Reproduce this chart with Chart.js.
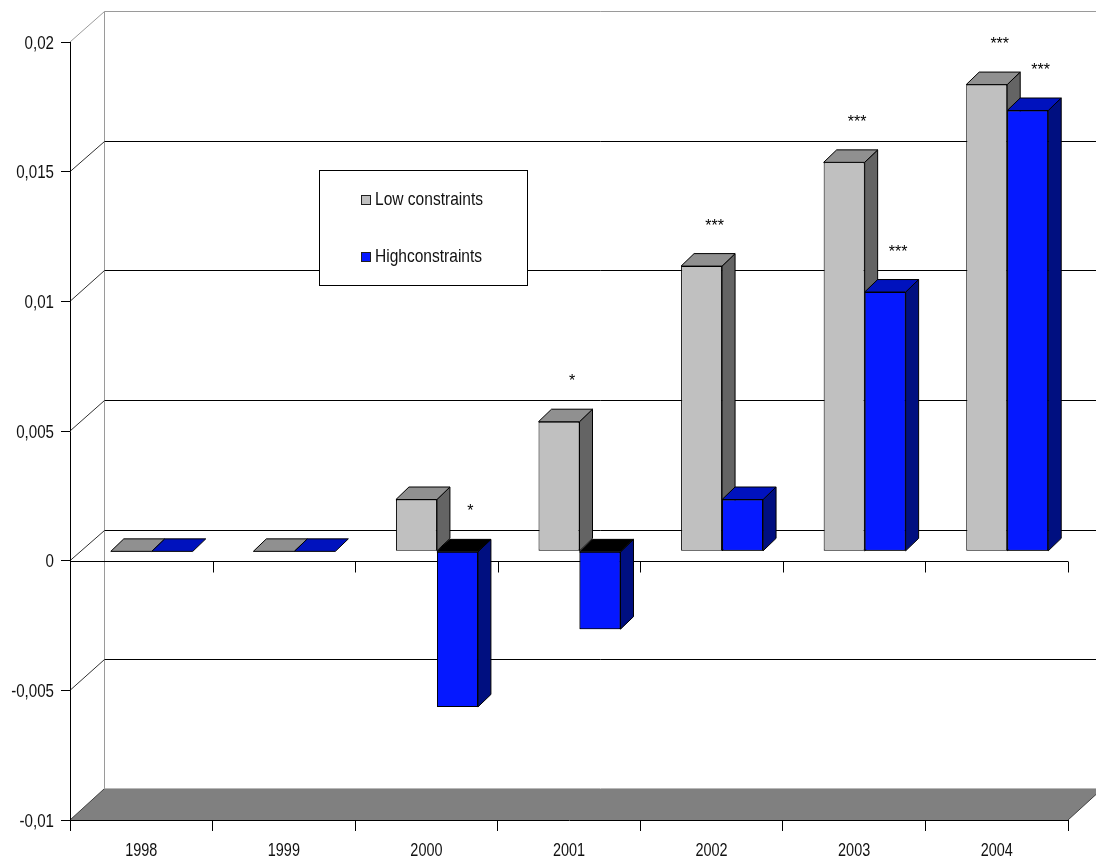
<!DOCTYPE html>
<html>
<head>
<meta charset="utf-8">
<script src="https://cdn.jsdelivr.net/npm/chart.js@4/dist/chart.umd.min.js"></script>
<style>
  html, body { margin: 0; padding: 0; background: #ffffff; }
  #c { display: block; }
</style>
</head>
<body>
<canvas id="c" width="1096" height="864"></canvas>
<script>
// ---- data ----
const categories = ['1998', '1999', '2000', '2001', '2002', '2003', '2004'];
const lowConstraints = [0, 0, 0.002, 0.005, 0.011, 0.015, 0.018];
const highConstraints = [0, 0, -0.006, -0.003, 0.002, 0.010, 0.017];
const lowStars = ['', '', '', '*', '***', '***', '***'];
const highStars = ['', '', '*', '', '', '***', '***'];
const seriesNames = ['Low constraints', 'Highconstraints'];
const yMin = -0.01, yMax = 0.02, yStep = 0.005;

// ---- styling ----
const FONT = "'Liberation Sans', Arial, sans-serif";
const WALL_DX = 34, WALL_DY = -31;     // depth of the whole 3D box
const BAR_OX = 10.5, BAR_OY = -9.3;    // bar plane offset from front plane
const BAR_DX = 13, BAR_DY = -12.5;     // depth of each bar
const faces = [
  { front: '#C0C0C0', top: '#909090', side: '#646464', negTop: '#000000' },
  { front: '#0518FF', top: '#0012BE', side: '#000F80', negTop: '#000000' }
];

function fmt(v) { return String(+v.toFixed(4)).replace('.', ','); }

function drawText(ctx, text, x, y, size, sx, align, baseline, color) {
  ctx.save();
  ctx.translate(x, y);
  ctx.scale(sx, 1);
  ctx.font = size + 'px ' + FONT;
  ctx.textAlign = align;
  ctx.textBaseline = baseline;
  ctx.fillStyle = color || '#111111';
  ctx.fillText(text, 0, 0);
  ctx.restore();
}

function drawFaces(ctx, bar, f) {
  const p = bar.getProps(['x', 'y', 'base', 'width'], true);
  const x1 = p.x - p.width / 2, x2 = p.x + p.width / 2;
  const top = Math.min(p.y, p.base), bottom = Math.max(p.y, p.base);
  const neg = p.y > p.base + 0.5;
  ctx.lineWidth = 1;
  ctx.strokeStyle = '#000000';
  if (bottom - top > 0.5) {
    ctx.beginPath();
    ctx.moveTo(x2, top);
    ctx.lineTo(x2 + BAR_DX, top + BAR_DY);
    ctx.lineTo(x2 + BAR_DX, bottom + BAR_DY);
    ctx.lineTo(x2, bottom);
    ctx.closePath();
    ctx.fillStyle = f.side;
    ctx.fill();
    ctx.stroke();
  }
  ctx.beginPath();
  ctx.moveTo(x1, top);
  ctx.lineTo(x1 + BAR_DX, top + BAR_DY);
  ctx.lineTo(x2 + BAR_DX, top + BAR_DY);
  ctx.lineTo(x2, top);
  ctx.closePath();
  ctx.fillStyle = neg ? f.negTop : f.top;
  ctx.fill();
  ctx.stroke();
}

const wallPlugin = {
  id: 'wall3d',
  beforeDraw(chart) {
    const { ctx, chartArea: a, scales: { y } } = chart;
    ctx.save();
    // floor
    const yf = y.getPixelForValue(yMin);
    ctx.beginPath();
    ctx.moveTo(a.left, yf);
    ctx.lineTo(a.right, yf);
    ctx.lineTo(a.right + WALL_DX, yf + WALL_DY);
    ctx.lineTo(a.left + WALL_DX, yf + WALL_DY);
    ctx.closePath();
    ctx.fillStyle = '#808080';
    ctx.fill();
    ctx.lineWidth = 1;
    ctx.strokeStyle = '#404040';
    ctx.beginPath();
    ctx.moveTo(a.left, yf); ctx.lineTo(a.left + WALL_DX, yf + WALL_DY);
    ctx.moveTo(a.right, yf); ctx.lineTo(a.right + WALL_DX, yf + WALL_DY);
    ctx.stroke();
    ctx.strokeStyle = '#b8b8b8';
    ctx.beginPath();
    ctx.moveTo(a.left + WALL_DX, Math.round(yf + WALL_DY) - 0.5);
    ctx.lineTo(a.right + WALL_DX, Math.round(yf + WALL_DY) - 0.5);
    ctx.stroke();

    // back wall and left wall lines
    const wx = Math.round(a.left + WALL_DX) + 0.5;
    const yTop = Math.round(y.getPixelForValue(yMax) + WALL_DY) + 0.5;
    ctx.strokeStyle = '#9a9a9a';
    ctx.beginPath();
    ctx.moveTo(wx, yTop); ctx.lineTo(wx, yf + WALL_DY);
    ctx.moveTo(wx, yTop); ctx.lineTo(a.right + WALL_DX, yTop);
    ctx.moveTo(a.left, y.getPixelForValue(yMax)); ctx.lineTo(wx, yTop);
    ctx.stroke();
    y.ticks.forEach((t) => {
      const v = t.value;
      if (v <= yMin + 1e-9 || v >= yMax - 1e-9) return;
      const py = y.getPixelForValue(v);
      const by = Math.round(py + WALL_DY) + 0.5;
      ctx.strokeStyle = '#000000';
      ctx.beginPath();
      ctx.moveTo(wx, by); ctx.lineTo(a.right + WALL_DX, by);
      ctx.stroke();
      ctx.strokeStyle = '#303030';
      ctx.beginPath();
      ctx.moveTo(a.left, py); ctx.lineTo(wx, by);
      ctx.stroke();
    });
    ctx.restore();
  },
  afterDraw(chart) {
    // axis labels (drawn slightly condensed like the original)
    const { ctx, chartArea: a, scales: { x, y } } = chart;
    y.ticks.forEach((t) => {
      drawText(ctx, fmt(t.value), a.left - 16, y.getPixelForValue(t.value) + 6.5, 18, 0.84, 'right', 'alphabetic');
    });
    chart.data.labels.forEach((lab, i) => {
      drawText(ctx, lab, x.getPixelForValue(i), 856, 19, 0.76, 'center', 'alphabetic');
    });
  },
  beforeDatasetsDraw(chart) {
    const { ctx, chartArea: a, scales: { x, y } } = chart;
    ctx.save();
    // front zero line with category ticks
    const y0 = Math.round(y.getPixelForValue(0)) + 0.5;
    ctx.strokeStyle = '#000000';
    ctx.lineWidth = 1;
    ctx.beginPath();
    ctx.moveTo(a.left, y0); ctx.lineTo(a.right, y0);
    const n = categories.length;
    for (let i = 1; i <= n; i++) {
      const tx = Math.round(a.left + (a.right - a.left) * i / n) + 0.5;
      ctx.moveTo(tx, y0); ctx.lineTo(tx, y0 + 11);
    }
    ctx.stroke();
    ctx.restore();
    // bars are drawn on a plane set back from the front
    ctx.save();
    ctx.translate(BAR_OX, BAR_OY);
  },
  afterDatasetsDraw(chart) {
    const { ctx } = chart;
    const lowMeta = chart.getDatasetMeta(0);
    const highMeta = chart.getDatasetMeta(1);
    // 3D faces, drawn left to right so nearer faces cover farther ones
    ctx.save();
    lowMeta.data.forEach((bar, i) => {
      drawFaces(ctx, bar, faces[0]);
      highMeta.data[i].draw(ctx);
      drawFaces(ctx, highMeta.data[i], faces[1]);
    });
    ctx.restore();
    ctx.restore(); // undo translate
    ctx.save();
    // significance stars
    [lowStars, highStars].forEach((stars, di) => {
      const meta = chart.getDatasetMeta(di);
      stars.forEach((s, i) => {
        if (!s) return;
        const p = meta.data[i].getProps(['x', 'y', 'base'], true);
        const top = Math.min(p.y, p.base);
        drawText(ctx, s, p.x + BAR_OX + 13, top + BAR_OY - 45 + 9.5, 16, 1, 'center', 'alphabetic', '#000000');
      });
    });
    // legend
    const lx = 319.5, ly = 170.5, lw = 208, lh = 115;
    ctx.fillStyle = '#ffffff';
    ctx.fillRect(lx, ly, lw, lh);
    ctx.strokeStyle = '#000000';
    ctx.lineWidth = 1;
    ctx.strokeRect(lx, ly, lw, lh);
    chart.data.datasets.forEach((ds, i) => {
      const sy = 195.5 + i * 57;
      ctx.fillStyle = faces[i].front;
      ctx.fillRect(361.5, sy, 9, 9);
      ctx.strokeStyle = '#202020';
      ctx.strokeRect(361.5, sy, 9, 9);
      drawText(ctx, ds.label, 375, 205 + i * 57, 18.5, 0.84, 'left', 'alphabetic');
    });
    ctx.restore();
  }
};

new Chart(document.getElementById('c'), {
  type: 'bar',
  data: {
    labels: categories,
    datasets: [
      { label: seriesNames[0], data: lowConstraints, backgroundColor: faces[0].front,
        borderColor: '#000000', borderWidth: 1, borderSkipped: false, clip: false },
      { label: seriesNames[1], data: highConstraints, backgroundColor: faces[1].front,
        borderColor: '#000000', borderWidth: 1, borderSkipped: false, clip: false }
    ]
  },
  options: {
    responsive: false,
    devicePixelRatio: 1,
    animation: false,
    events: [],
    categoryPercentage: 0.575,
    barPercentage: 1.0,
    layout: { padding: { top: 42, right: 28, left: 0, bottom: 0 } },
    plugins: { legend: { display: false }, tooltip: { enabled: false } },
    scales: {
      x: {
        grid: { drawOnChartArea: false, tickLength: 11, color: '#000000', offset: true },
        border: { color: '#000000' },
        ticks: { display: false },
        afterFit(s) { s.height = 44; }
      },
      y: {
        min: yMin, max: yMax,
        grid: { drawOnChartArea: false, tickLength: 9, color: '#000000' },
        border: { color: '#000000' },
        ticks: { stepSize: yStep, display: false },
        afterFit(s) { s.width = 70; }
      }
    }
  },
  plugins: [wallPlugin]
});
</script>
</body>
</html>
